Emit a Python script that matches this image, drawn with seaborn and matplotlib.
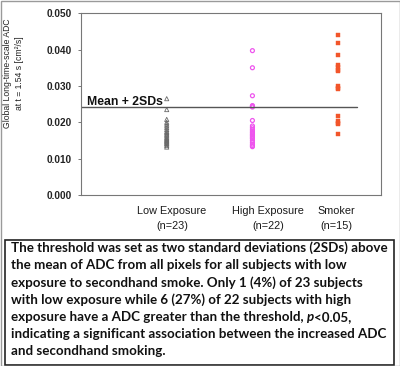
import numpy as np
import pandas as pd
import matplotlib
matplotlib.use("Agg")
import matplotlib.pyplot as plt
import seaborn as sns
from matplotlib.patches import Rectangle

# ADC values
low_exposure = [0.0265, 0.0235, 0.0208, 0.0200, 0.0195, 0.0190, 0.0185, 0.0180,
                0.0175, 0.0172, 0.0168, 0.0165, 0.0162, 0.0158, 0.0155, 0.0152,
                0.0150, 0.0147, 0.0145, 0.0142, 0.0140, 0.0136, 0.0132]
high_exposure = [0.0397, 0.0350, 0.0273, 0.0246, 0.0244, 0.0242, 0.0205, 0.0190,
                 0.0185, 0.0180, 0.0176, 0.0172, 0.0168, 0.0165, 0.0162, 0.0158,
                 0.0155, 0.0150, 0.0145, 0.0140, 0.0136, 0.0133]
smoker = [0.0441, 0.0418, 0.0384, 0.0357, 0.0352, 0.0345, 0.0340, 0.0299,
          0.0294, 0.0292, 0.0216, 0.0203, 0.0198, 0.0195, 0.0168]
threshold = 0.0241

groups = ["Low Exposure", "High Exposure", "Smoker"]
group_labels = ["Low Exposure\n(n=23)", "High Exposure\n(n=22)", "Smoker\n(n=15)"]
y_ticks = [0.000, 0.010, 0.020, 0.030, 0.040, 0.050]

# caption; the 5th line carries an italic "p"
caption_lines = [
    "The threshold was set as two standard deviations (2SDs) above",
    "the mean of ADC from all pixels for all subjects with low",
    "exposure to secondhand smoke. Only 1 (4%) of 23 subjects",
    "with low exposure while 6 (27%) of 22 subjects with high",
    ("exposure have a ADC greater than the threshold, ", "p", "<0.05,"),
    "indicating a significant association between the increased ADC",
    "and secondhand smoking.",
]

sns.set_style("white")
plt.rcParams['font.family'] = ['Liberation Sans', 'DejaVu Sans']

df = pd.DataFrame({
    "group": ["Low Exposure"] * len(low_exposure) + ["High Exposure"] * len(high_exposure)
             + ["Smoker"] * len(smoker),
    "adc": low_exposure + high_exposure + smoker,
})
df["pos"] = df["group"].map({g: i + 1 for i, g in enumerate(groups)})

styles = {
    "Low Exposure": dict(marker="^", s=9, facecolor="none", edgecolor="#6a6a6a", linewidth=0.6),
    "High Exposure": dict(marker="o", s=8, facecolor="none", edgecolor="#ee55ee", linewidth=0.9),
    "Smoker": dict(marker="s", s=12, color="#f2552a", edgecolor="#f2552a", linewidth=0.3),
}

fig = plt.figure(figsize=(4.0, 3.66), dpi=100)
ax = fig.add_axes([0.2025, 0.467, 0.75, 0.497])

for g in groups:
    sub = df[df["group"] == g]
    sns.scatterplot(data=sub, x="pos", y="adc", ax=ax, legend=False, **styles[g])

ax.axhline(threshold, xmin=0, xmax=3.22 / 3.5, color="#555555", lw=1.0)
ax.annotate("Mean + 2SDs", xy=(0.07, threshold), xytext=(0, 1.5),
            textcoords="offset points", va="baseline", ha="left",
            fontsize=8.8, fontweight="bold", color="#111111")

ax.set_xlim(0, 3.5)
ax.set_ylim(0, 0.050)
ax.set_yticks(y_ticks)
ax.set_yticklabels([f"{v:.3f}" for v in y_ticks], fontsize=7.2, fontweight="bold", color="#222222")
ax.set_xticks([1.06, 2.18, 2.98])
ax.set_xticklabels(group_labels, fontsize=7.8, color="#1a1a1a", linespacing=1.6)
ax.tick_params(axis="x", length=0, pad=8)
ax.tick_params(axis="y", length=2.5, width=0.7, color="#777777", pad=4, left=True, direction="out")
ax.set_xlabel("")
ax.set_ylabel("Global Long-time-scale ADC\nat t = 1.54 s [cm²/s]", fontsize=6.2, color="#222222",
              linespacing=1.4)
ax.yaxis.set_label_coords(-0.19, 0.67)
for sp in ax.spines.values():
    sp.set_color("#777777")
    sp.set_linewidth(0.8)

# caption box
fig.add_artist(Rectangle((5 / 400, 1 / 366), 389 / 400, 125 / 366, transform=fig.transFigure,
                         facecolor="white", edgecolor="#222222", lw=1.2))
cap_kw = dict(fontsize=9.6, fontweight="bold", color="#111111", family=["Lato", "DejaVu Sans"])
y0 = 252
step = 17.2
for i, line in enumerate(caption_lines):
    y = 1 - (y0 + i * step) / 366
    if isinstance(line, tuple):
        t = fig.text(11 / 400, y, line[0], va="baseline", ha="left", **cap_kw)
        a1 = fig.text(0, 0, line[1], va="baseline", ha="left", style="italic", **cap_kw)
        fig.canvas.draw()
        bb = t.get_window_extent()
        a1.set_position(((bb.x1) / fig.bbox.width, y))
        fig.canvas.draw()
        bb2 = a1.get_window_extent()
        fig.text(bb2.x1 / fig.bbox.width, y, line[2], va="baseline", ha="left", **cap_kw)
    else:
        fig.text(11 / 400, y, line, va="baseline", ha="left", **cap_kw)

# outer frame
fig.add_artist(Rectangle((0.5 / 400, 0.5 / 366), 399 / 400, 365 / 366, transform=fig.transFigure,
                         facecolor="none", edgecolor="#9a9a9a", lw=1.0))

fig.savefig("out.png", dpi=100)
